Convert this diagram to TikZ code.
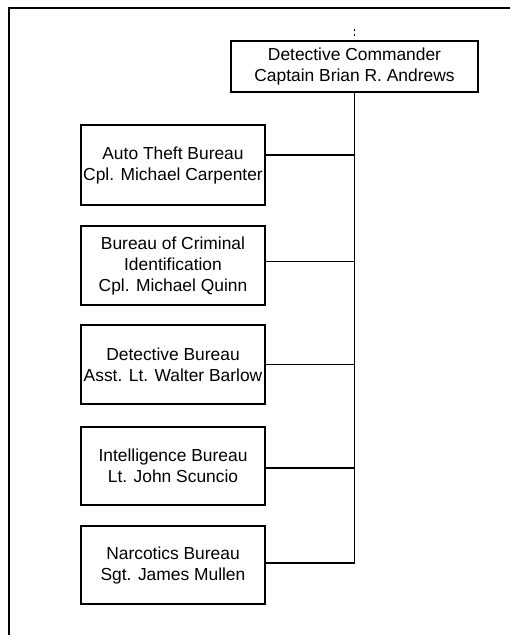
\documentclass[tikz,border=0pt]{standalone}
\usepackage{fontspec}
\setmainfont{Liberation Sans}
\begin{document}
\begin{tikzpicture}[x=1pt,y=1pt,
  unitbox/.style={draw, line width=1.6pt, align=center, inner sep=0pt,
    minimum width=184pt, font=\fontsize{17.4}{21}\selectfont},
  link/.style={line width=1.7pt}]
\useasboundingbox (0,0) rectangle (510,-635);
% page frame (top and left edge)
\draw[line width=1.6pt] (9,-635) -- (9,-8) -- (510,-8);

% commander
\node[unitbox, minimum width=247pt, minimum height=51pt] (cmd) at (354.5,-66.5)
  {Detective Commander\\Captain Brian R. Andrews};
\draw[line width=1.6pt, dash pattern=on 2pt off 3pt] ([yshift=4pt]cmd.north) -- ++(0,8pt);

% bureaus
\node[unitbox, minimum height=80pt] (b1) at (173,-165)
  {Auto Theft Bureau\\Cpl. Michael Carpenter};
\node[unitbox, minimum height=79pt] (b2) at (173,-265.5)
  {Bureau of Criminal\\Identification\\Cpl. Michael Quinn};
\node[unitbox, minimum height=79pt] (b3) at (173,-364.5)
  {Detective Bureau\\Asst. Lt. Walter Barlow};
\node[unitbox, minimum height=78pt] (b4) at (173,-466)
  {Intelligence Bureau\\Lt. John Scuncio};
\node[unitbox, minimum height=78pt] (b5) at (173,-565)
  {Narcotics Bureau\\Sgt. James Mullen};

% connector ends on each bureau
\coordinate (c1) at ([yshift=10pt]b1.east);
\coordinate (c2) at ([yshift=4pt]b2.east);
\coordinate (c3) at (b3.east);
\coordinate (c4) at ([yshift=-2pt]b4.east);
\coordinate (c5) at ([yshift=2pt]b5.east);

% spine and branches
\draw[link] (cmd.south) -- (cmd.south |- c5);
\foreach \c in {c1,c2,c3,c4,c5}
  \draw[link] (\c) -- (\c -| cmd.south);
\end{tikzpicture}
\end{document}
